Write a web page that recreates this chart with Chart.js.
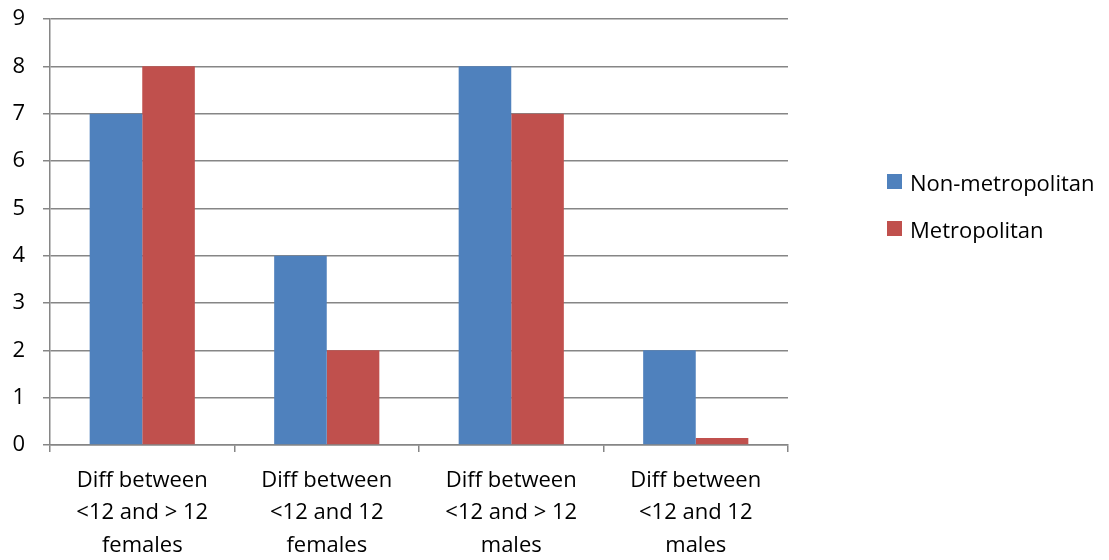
<!DOCTYPE html>
<html>
<head>
<meta charset="utf-8">
<script src="https://cdn.jsdelivr.net/npm/chart.js@4"></script>
<style>
  html, body { margin: 0; padding: 0; background: #fff; }
  #wrap { position: relative; width: 1109px; height: 560px; }
  #legend { position: absolute; left: 887px; top: 158px; font-family: "Open Sans", Lato, sans-serif; font-size: 22px; color: #000; }
  #legend .item { display: flex; align-items: center; height: 47px; white-space: nowrap; }
  #legend .box { width: 15px; height: 15px; margin-right: 8px; }
</style>
</head>
<body>
<div id="wrap">
  <canvas id="myChart" width="1109" height="560"></canvas>
  <div id="legend"></div>
</div>
<script>
// data
const categories = [
  ['Diff between', '<12 and > 12', 'females'],
  ['Diff between', '<12 and 12', 'females'],
  ['Diff between', '<12 and > 12', 'males'],
  ['Diff between', '<12 and 12', 'males']
];
const nonMetro = [7, 4, 8, 2];
const metro = [8, 2, 7, 0.15];
const seriesNames = ['Non-metropolitan', 'Metropolitan'];
const seriesColors = ['#4f81bd', '#c0504d'];
const yTicks = [0, 1, 2, 3, 4, 5, 6, 7, 8, 9];

const font = { family: '"Open Sans", Lato, sans-serif', size: 22 };
const gridColor = '#868686';

const setupChart = () => {
  const ctx = document.getElementById('myChart').getContext('2d');
  new Chart(ctx, {
    type: 'bar',
    data: {
      labels: categories,
      datasets: [
        { label: seriesNames[0], data: nonMetro, backgroundColor: seriesColors[0] },
        { label: seriesNames[1], data: metro, backgroundColor: seriesColors[1] }
      ]
    },
    options: {
      responsive: false,
      animation: false,
      devicePixelRatio: 1,
      layout: { padding: { top: 19, right: 321, left: 0, bottom: 0 } },
      datasets: { bar: { categoryPercentage: 0.57, barPercentage: 1 } },
      plugins: { legend: { display: false }, tooltip: { enabled: false } },
      scales: {
        x: {
          grid: { display: true, drawOnChartArea: false, offset: true, color: gridColor, tickLength: 7, lineWidth: 1.5 },
          border: { color: gridColor, width: 1.5 },
          ticks: { color: '#000', font: { ...font, lineHeight: 1.48 }, maxRotation: 0, padding: 12 },
          afterFit: (s) => { s.height = 115; s.paddingLeft = 0; s.paddingRight = 0; }
        },
        y: {
          min: 0,
          max: 9,
          afterBuildTicks: (s) => { s.ticks = yTicks.map(v => ({ value: v })); },
          grid: { color: gridColor, tickLength: 7, lineWidth: 1.5 },
          border: { color: gridColor, width: 1.5 },
          ticks: { color: '#000', font, padding: 18 },
          afterFit: (s) => { s.width = 50; s.paddingTop = 0; s.paddingBottom = 0; }
        }
      }
    }
  });
};

const setupLegend = () => {
  const legend = document.getElementById('legend');
  seriesNames.forEach((name, i) => {
    const item = document.createElement('div');
    item.className = 'item';
    item.innerHTML = '<span class="box" style="background:' + seriesColors[i] + '"></span><span>' + name + '</span>';
    legend.appendChild(item);
  });
};

setupChart();
setupLegend();
</script>
</body>
</html>
